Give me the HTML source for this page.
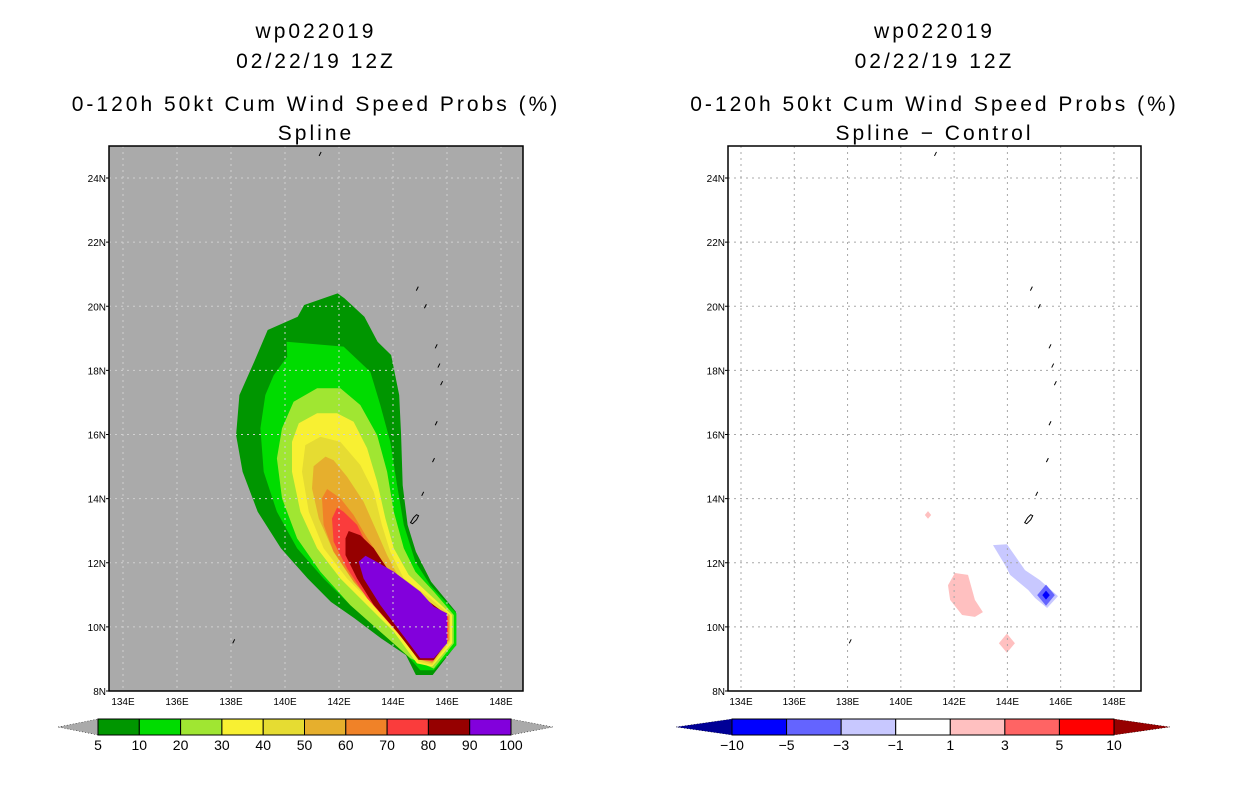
<!DOCTYPE html>
<html><head><meta charset="utf-8"><style>
body{margin:0;background:#fff;width:1236px;height:800px;overflow:hidden}
svg{display:block}
text{font-family:"Liberation Sans",sans-serif;fill:#000}
</style></head><body>
<svg id="chart" width="1236" height="800" viewBox="0 0 1236 800" xmlns="http://www.w3.org/2000/svg"></svg>
<script>
// ---- data ----
const lonTicks=[134,136,138,140,142,144,146,148];
const latTicks=[8,10,12,14,16,18,20,22,24];
const probLevels=[5,10,20,30,40,50,60,70,80,90,100];
const probColors=['#009600','#00dc00','#a0e632','#f8f032','#e6dc32','#e6af2d','#f08228','#fa3c3c','#960000','#8200dc'];
const diffLevels=[-10,-5,-3,-1,1,3,5,10];
const diffColors=['#0000ff','#6464ff','#c8c8ff','#ffffff','#ffc0c0','#ff6464','#ff0000'];
const c05=[[141.95,20.40],[140.71,20.04],[140.47,19.67],[139.36,19.26],[138.86,18.27],[138.31,17.23],[138.19,15.98],[138.43,14.84],[138.99,13.59],[139.85,12.45],[140.84,11.51],[141.70,10.78],[142.57,10.27],[143.56,9.64],[144.48,9.12],[144.85,8.50],[145.47,8.50],[146.33,9.43],[146.33,10.47],[145.41,11.41],[144.85,12.34],[144.54,13.18],[144.36,14.42],[144.30,15.98],[144.23,17.23],[143.93,18.48],[143.43,18.89],[142.94,19.67],[142.20,20.25]];
const c10=[[140.06,18.89],[140.08,18.43],[139.58,17.85],[139.27,17.23],[139.09,16.19],[139.21,14.84],[139.70,13.59],[140.45,12.45],[141.43,11.51],[142.42,10.68],[143.41,9.95],[144.52,9.12],[145.01,8.65],[145.51,8.65],[146.35,9.43],[146.35,10.42],[145.38,11.30],[144.83,12.03],[144.40,13.18],[144.15,14.42],[143.90,15.77],[143.53,16.92],[143.16,17.96],[142.17,18.74]];
const c20=[[141.19,17.44],[140.32,17.02],[139.89,16.19],[139.70,15.25],[139.89,14.01],[140.45,12.76],[141.31,11.72],[142.42,10.68],[143.53,9.85],[144.64,9.02],[145.51,8.70],[146.25,9.49],[146.25,10.37],[145.51,11.10],[144.83,11.72],[144.40,12.45],[144.03,13.59],[143.78,14.84],[143.41,15.98],[142.79,16.92],[142.05,17.44]];
const c30=[[141.19,16.66],[140.51,16.35],[140.26,15.77],[140.26,14.84],[140.57,13.59],[141.19,12.45],[142.05,11.51],[143.04,10.68],[144.03,9.85],[144.89,8.86],[145.45,8.76],[146.19,9.49],[146.19,10.37],[145.38,10.99],[144.58,11.62],[144.03,12.45],[143.72,13.38],[143.41,14.53],[143.04,15.57],[142.54,16.40],[141.93,16.66]];
const c40=[[141.31,15.93],[140.75,15.67],[140.63,14.84],[140.88,13.59],[141.43,12.45],[142.30,11.51],[143.29,10.68],[144.27,9.85],[144.95,8.91],[145.45,8.81],[146.12,9.54],[146.12,10.37],[145.38,10.89],[144.40,11.51],[143.90,12.34],[143.59,13.18],[143.29,14.21],[142.79,15.05],[142.05,15.77]];
const c50=[[141.50,15.31],[141.06,15.01],[141.00,14.32],[141.25,13.38],[141.80,12.34],[142.67,11.30],[143.66,10.37],[144.52,9.54],[145.01,8.97],[145.45,8.86],[146.10,9.59],[146.10,10.37],[145.26,10.78],[144.27,11.46],[143.78,12.24],[143.29,13.18],[142.91,13.90],[142.30,14.68],[141.80,15.20]];
const c60=[[141.56,14.30],[141.37,14.01],[141.43,13.18],[141.80,12.34],[142.54,11.41],[143.41,10.58],[144.40,9.64],[145.01,9.02],[145.45,8.91],[146.06,9.59],[146.06,10.32],[145.14,10.73],[144.15,11.41],[143.53,12.14],[142.98,12.86],[142.54,13.49],[142.05,14.01]];
const c70=[[141.93,13.72],[141.74,13.38],[141.80,12.66],[142.30,11.82],[143.04,10.89],[144.03,9.95],[144.77,9.23],[145.01,8.97],[145.48,8.93],[146.04,9.59],[146.04,10.32],[145.14,10.68],[144.03,11.30],[143.41,11.93],[143.04,12.55],[142.67,13.18],[142.17,13.59]];
const c80=[[142.36,12.99],[142.24,12.76],[142.24,12.24],[142.67,11.51],[143.29,10.68],[144.15,9.85],[144.95,8.97],[145.51,8.97],[146.00,9.52],[146.00,10.37],[145.01,10.99],[144.03,11.51],[143.29,12.45],[142.79,12.86]];
const c90=[[142.98,12.22],[142.73,12.03],[142.91,11.51],[143.53,10.68],[144.27,9.85],[145.01,9.02],[145.51,9.02],[146.00,9.49],[146.00,10.42],[145.51,10.63],[145.01,11.10],[144.03,11.72],[143.29,12.08]];
const dBlue=[[143.46,12.55],[143.98,12.58],[144.66,11.77],[145.22,11.46],[145.90,10.96],[145.49,10.59],[145.04,10.90],[144.78,11.15],[144.10,11.62],[143.91,11.93]];
const dPink=[[142.03,11.68],[142.52,11.62],[142.78,10.84],[143.08,10.46],[142.78,10.31],[142.30,10.37],[141.85,10.84],[141.77,11.30]];
const dSpots=[[141.02,13.49,0.12,'#ffc0c0'],[143.98,9.49,0.3,'#ffc0c0'],[145.45,10.99,0.33,'#6464ff'],[145.45,10.99,0.14,'#0000ff']];
const islands=[[141.3,24.75],[144.9,20.55],[145.2,20.0],[145.6,18.75],[145.7,18.15],[145.8,17.6],[145.6,16.35],[145.5,15.2],[145.1,14.15],[138.1,9.55]];

const NS='http://www.w3.org/2000/svg';
const svg=document.getElementById('chart');
function el(tag,attrs,parent){const e=document.createElementNS(NS,tag);for(const k in attrs)e.setAttribute(k,attrs[k]);(parent||svg).appendChild(e);return e;}

function panel(x0,x1,lonAt134,pxPerLon,bg,gridColor,title2,name){
  const y0=146,y1=691;
  const px=lon=>lonAt134+(lon-134)*pxPerLon;
  const py=lat=>178+(24-lat)*(513/16);
  const g=el('g',{});
  
  
  const cx=(x0+x1)/2;
  const lines=['wp022019','02/22/19 12Z','0-120h 50kt Cum Wind Speed Probs (%)',title2];
  const ys=[38,68,111,140];
  lines.forEach((t,i)=>{const tx=el('text',{x:cx,y:ys[i],'text-anchor':'middle','font-size':21,'letter-spacing':'3'},g);tx.textContent=t;
    
    });
  const bgR=el('rect',{x:x0,y:y0,width:x1-x0,height:y1-y0,fill:bg},g);
  
  
  const clipId='clip'+name;
  const cp=el('clipPath',{id:clipId},g);el('rect',{x:x0,y:y0,width:x1-x0,height:y1-y0},cp);
  const content=el('g',{'clip-path':'url(#'+clipId+')'},g);
  return {g,content,px,py,x0,x1,y0,y1,gridColor};
}
function poly(p,pts,fill,parent,name){
  const e=el('polygon',{points:pts.map(q=>p.px(q[0]).toFixed(1)+','+p.py(q[1]).toFixed(1)).join(' '),fill:fill},parent);
  
  
}
function finishPanel(p){
  const gg=el('g',{},p.content);
  
  
  lonTicks.forEach(l=>el('line',{x1:p.px(l),x2:p.px(l),y1:p.y0,y2:p.y1,stroke:p.gridColor,'stroke-width':1,'stroke-dasharray':'2,4'},gg));
  latTicks.forEach(l=>el('line',{y1:p.py(l),y2:p.py(l),x1:p.x0,x2:p.x1,stroke:p.gridColor,'stroke-width':1,'stroke-dasharray':'2,4'},gg));
  islands.forEach(s=>{const e=el('path',{d:`M${p.px(s[0])-1},${p.py(s[1])+2} l2,-4`,fill:'none',stroke:'#000','stroke-width':1},p.content);
    
    });
  const guam=el('path',{d:`M${p.px(144.65)},${p.py(13.25)} l3,-5 l3,-3 l2,1 l-2,4 l-4,4 z`,fill:'none',stroke:'#000','stroke-width':1},p.content);
  
  
  const fr=el('rect',{x:p.x0,y:p.y0,width:p.x1-p.x0,height:p.y1-p.y0,fill:'none',stroke:'#000','stroke-width':1.5},p.g);
  
  
  lonTicks.forEach(l=>{const t=el('text',{x:p.px(l),y:705,'text-anchor':'middle','font-size':10},p.g);t.textContent=l+'E';
    
    });
  latTicks.forEach(l=>{const t=el('text',{x:p.x0-3,y:p.py(l)+4,'text-anchor':'end','font-size':10},p.g);t.textContent=l+'N';
    
    
    el('line',{x1:p.x0-3,x2:p.x0,y1:p.py(l),y2:p.py(l),stroke:'#000'},p.g);});
}
function colorbar(xs,xe,levels,colors,leftTri,rightTri,triL,triR,name){
  const g=el('g',{});
  
  
  const y0=719,y1=735,ym=727;
  const w=(xe-xs)/colors.length;
  const tl=el('polygon',{points:`${triL},${ym} ${xs},${y0} ${xs},${y1}`,fill:leftTri,stroke:'#000','stroke-width':0.5,'stroke-dasharray':'1,2'},g);
  
  
  const tr=el('polygon',{points:`${triR},${ym} ${xe},${y0} ${xe},${y1}`,fill:rightTri,stroke:'#000','stroke-width':0.5,'stroke-dasharray':'1,2'},g);
  
  
  colors.forEach((c,i)=>{const r=el('rect',{x:xs+i*w,y:y0,width:w,height:y1-y0,fill:c,stroke:'#000','stroke-width':1},g);
    
    });
  levels.forEach((v,i)=>{const t=el('text',{x:xs+i*w,y:750,'text-anchor':'middle','font-size':14},g);t.textContent=v<0?'\u2212'+(-v):v;
    
    });
}

// left panel
const L=panel(109,523,123,27,'#aaaaaa','#d0d0d0','Spline','left-panel');
const probPolys=[c05,c10,c20,c30,c40,c50,c60,c70,c80,c90];
probPolys.forEach((pts,i)=>poly(L,pts,probColors[i],L.content,'contour-'+probLevels[i]));
finishPanel(L);
colorbar(98,511,probLevels,probColors,'#aaaaaa','#aaaaaa',58,553,'prob-colorbar');

// right panel
const R=panel(728,1141,741,26.64,'#ffffff','#a8a8a8','Spline \u2212 Control','right-panel');
poly(R,dBlue,'#c8c8ff',R.content,'diff-negative-area');
poly(R,dPink,'#ffc0c0',R.content,'diff-positive-area');
dSpots.forEach(s=>{poly(R,[[s[0]-s[2],s[1]],[s[0],s[1]+s[2]],[s[0]+s[2],s[1]],[s[0],s[1]-s[2]]],s[3],R.content,'diff-spot');});
finishPanel(R);
colorbar(732,1114,diffLevels,diffColors,'#000096','#960000',676,1170,'diff-colorbar');
</script>
</body></html>
